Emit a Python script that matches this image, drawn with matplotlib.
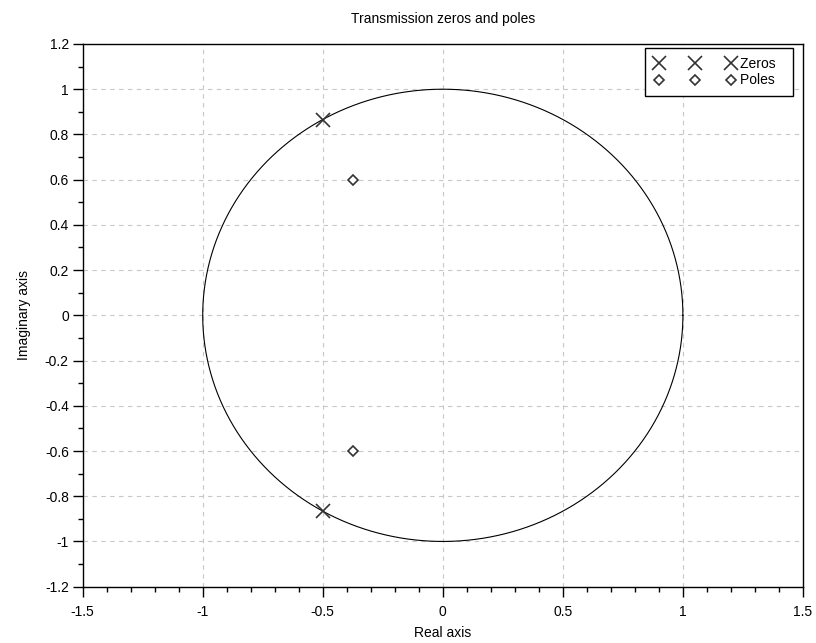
import numpy as np
import matplotlib.pyplot as plt
from matplotlib.ticker import MultipleLocator, FuncFormatter

plt.rcParams["font.family"] = ["Liberation Sans", "DejaVu Sans"]
plt.rcParams["font.size"] = 10

# zeros and poles
zeros_re = [-0.5, -0.5]
zeros_im = [0.866, -0.866]
poles_re = [-0.375, -0.375]
poles_im = [0.6, -0.6]

fig = plt.figure(figsize=(8.16, 6.43), dpi=100)
ax = fig.add_axes([0.1013, 0.0876, 0.8827, 0.844])

# unit circle
t = np.linspace(0, 2 * np.pi, 400)
ax.plot(np.cos(t), np.sin(t), color="black", lw=0.8)

ax.plot(zeros_re, zeros_im, "x", color="#333333", ms=10, mew=1.2, label="Zeros  ")
ax.plot(poles_re, poles_im, "D", color="#333333", mfc="white", ms=5, mew=1.2, label="Poles  ")

ax.set_xlim(-1.5, 1.5)
ax.set_ylim(-1.2, 1.2)
ax.xaxis.set_major_locator(MultipleLocator(0.5))
ax.xaxis.set_minor_locator(MultipleLocator(0.1))
ax.yaxis.set_major_locator(MultipleLocator(0.2))
ax.yaxis.set_minor_locator(MultipleLocator(0.1))
fmt = FuncFormatter(lambda v, p: f"{round(v, 1) + 0:g}")
ax.xaxis.set_major_formatter(fmt)
ax.yaxis.set_major_formatter(fmt)
ax.tick_params(which="major", direction="out", length=7, width=1, pad=3)
ax.tick_params(which="minor", direction="out", length=3.5, width=1)
ax.tick_params(axis="x", which="major", pad=6)
ax.grid(True, which="major", color="#c8c8c8", ls=(0, (4, 4)), lw=0.8)
for s in ax.spines.values():
    s.set_linewidth(1)

ax.set_xlabel("Real axis", labelpad=5)
ax.set_ylabel("Imaginary axis", labelpad=10)
ax.set_title("Transmission zeros and poles", pad=15, fontsize=10)

ax.legend(loc="upper right", bbox_to_anchor=(0.986, 0.992), borderaxespad=0,
          numpoints=3, fancybox=False, edgecolor="black", framealpha=1,
          handlelength=5.8, handletextpad=0.4, labelspacing=0.15,
          borderpad=0.65, fontsize=10)

plt.savefig("out.png", dpi=100)
